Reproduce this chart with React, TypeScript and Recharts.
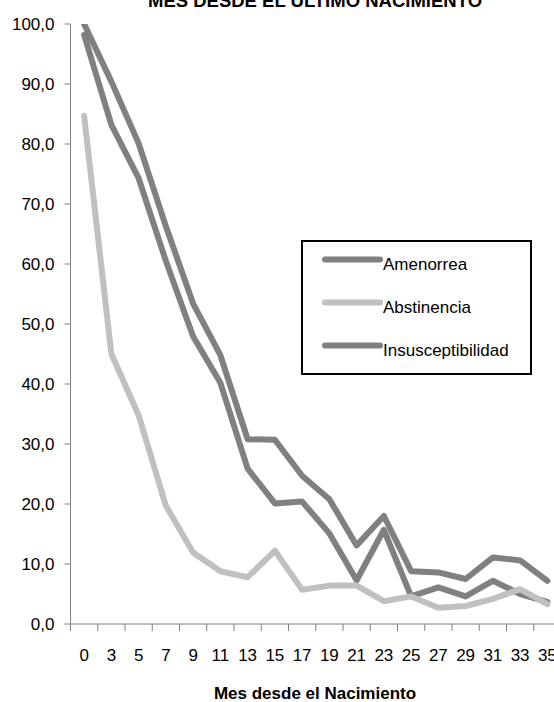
import { LineChart, Line, XAxis, YAxis, Legend } from "recharts";

// meses desde el último nacimiento
const meses = ["0", "3", "5", "7", "9", "11", "13", "15", "17", "19", "21", "23", "25", "27", "29", "31", "33", "35"];
const amenorrea = [98.2, 83.2, 74.3, 60.5, 47.9, 40.2, 25.9, 20.1, 20.4, 15.1, 7.3, 15.7, 4.6, 6.1, 4.6, 7.2, 5.0, 3.7];
const abstinencia = [84.7, 45.0, 34.8, 19.7, 11.9, 8.8, 7.8, 12.2, 5.7, 6.4, 6.4, 3.8, 4.6, 2.7, 3.0, 4.2, 5.8, 3.3];
const insusceptibilidad = [100, 90.4, 80.1, 66.3, 53.4, 44.8, 30.8, 30.7, 24.7, 20.8, 13.1, 18.0, 8.8, 8.6, 7.5, 11.1, 10.6, 7.2];
const yTicks = [0, 10, 20, 30, 40, 50, 60, 70, 80, 90, 100];
const legendOrder = ["Amenorrea", "Abstinencia", "Insusceptibilidad"];

const data = meses.map((mes, i) => ({
  mes,
  amenorrea: amenorrea[i],
  abstinencia: abstinencia[i],
  insusceptibilidad: insusceptibilidad[i],
}));

const FONT = "'Liberation Sans', Arial, sans-serif";
const AXIS = "#808080";
const DARK = "#808080";
const LIGHT = "#c0c0c0";

function MesTick(props: any) {
  const { x, y, payload, width, visibleTicksCount } = props;
  const band = width / visibleTicksCount;
  const left = x - band / 2;
  return (
    <g>
      <line x1={left} x2={left} y1={y} y2={y + 7} stroke={AXIS} />
      <text x={x} y={y + 36.5} textAnchor="middle" fontSize={17} fill="#000" fontFamily={FONT}>
        {payload.value}
      </text>
    </g>
  );
}

function LegendBox(props: any) {
  const items = [...(props.payload || [])].sort(
    (a: any, b: any) => legendOrder.indexOf(a.value) - legendOrder.indexOf(b.value)
  );
  return (
    <div style={{ width: 231, height: 135, border: "2px solid #000", boxSizing: "border-box", background: "#fff" }}>
      <svg width={227} height={131} style={{ display: "block" }}>
        {items.map((it: any, i: number) => (
          <g key={it.value}>
            <line x1={22} x2={77} y1={17.5 + 43 * i} y2={17.5 + 43 * i} stroke={it.color} strokeWidth={6} strokeLinecap="round" />
            <text x={80} y={27.5 + 43 * i} fontSize={17} fill="#000" fontFamily={FONT}>
              {it.value}
            </text>
          </g>
        ))}
      </svg>
    </div>
  );
}

export default function App() {
  return (
    <div style={{ position: "absolute", left: 0, top: 0, width: 554, height: 702, overflow: "hidden", background: "#fff" }}>
      <LineChart width={571} height={702} data={data} margin={{ top: 24, right: 10, left: 0, bottom: 38 }}>
        <XAxis
          dataKey="mes"
          scale="band"
          height={40}
          tickSize={0}
          tickMargin={0}
          tickLine={false}
          stroke={AXIS}
          interval={0}
          tick={<MesTick />}
        />
        <YAxis
          width={70.5}
          domain={[0, 100]}
          ticks={yTicks}
          allowDataOverflow
          stroke={AXIS}
          tickSize={6}
          tickMargin={10}
          tick={{ fontSize: 17, fill: "#000", fontFamily: FONT }}
          tickFormatter={(v: number) => v.toFixed(1).replace(".", ",")}
        />
        <Legend
          layout="vertical"
          align="center"
          verticalAlign="middle"
          content={<LegendBox />}
          wrapperStyle={{ left: 301, top: 240, width: 231, height: 135 }}
        />
        <Line
          dataKey="amenorrea"
          name="Amenorrea"
          stroke={DARK}
          strokeWidth={6}
          strokeLinecap="round"
          strokeLinejoin="round"
          dot={false}
          isAnimationActive={false}
        />
        <Line
          dataKey="abstinencia"
          name="Abstinencia"
          stroke={LIGHT}
          strokeWidth={6}
          strokeLinecap="round"
          strokeLinejoin="round"
          dot={false}
          isAnimationActive={false}
        />
        <Line
          dataKey="insusceptibilidad"
          name="Insusceptibilidad"
          stroke={DARK}
          strokeWidth={6}
          strokeLinecap="round"
          strokeLinejoin="round"
          dot={false}
          isAnimationActive={false}
        />
      </LineChart>
      <svg width={554} height={702} style={{ position: "absolute", left: 0, top: 0, pointerEvents: "none" }}>
        <text x={315} y={7} textAnchor="middle" fontSize={18.5} fontWeight="bold" fill="#000" fontFamily={FONT}>
          MES DESDE EL ÚLTIMO NACIMIENTO
        </text>
        <text x={315} y={699} textAnchor="middle" fontSize={17} fontWeight="bold" fill="#000" fontFamily={FONT}>
          Mes desde el Nacimiento
        </text>
      </svg>
    </div>
  );
}
